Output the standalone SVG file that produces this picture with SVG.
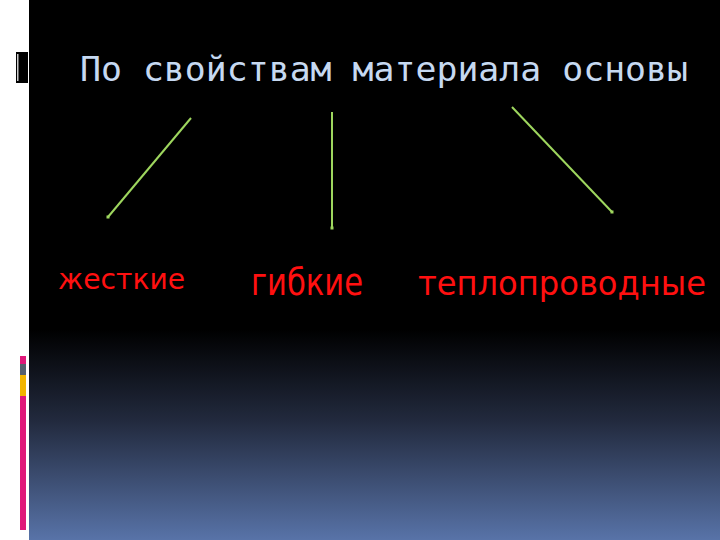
<svg xmlns="http://www.w3.org/2000/svg" width="720" height="540" viewBox="0 0 720 540">
  <style>
    .title { font-family: "DejaVu Sans Mono", "Liberation Mono", monospace; font-size: 34px; fill: #c6d9f1; }
    .lbl { font-family: "DejaVu Sans", "Liberation Sans", sans-serif; fill: #ff1010; }
    .conn { stroke: #9ed65e; stroke-width: 2; fill: none; marker-end: url(#dot); }
  </style>
  <defs>
    <linearGradient id="bg" x1="0" y1="0" x2="0" y2="540" gradientUnits="userSpaceOnUse">
      <stop offset="0" stop-color="#000000"/>
      <stop offset="0.61" stop-color="#000000"/>
      <stop offset="0.78" stop-color="#222a3e"/>
      <stop offset="1" stop-color="#5873a8"/>
    </linearGradient>
    <marker id="dot" markerWidth="4" markerHeight="4" refX="2" refY="2" markerUnits="userSpaceOnUse">
      <rect x="0.5" y="0.5" width="3" height="3" fill="#9ed65e"/>
    </marker>
  </defs>
  <rect x="0" y="0" width="720" height="540" fill="#ffffff"/>
  <rect x="29" y="0" width="691" height="540" fill="url(#bg)"/>
  <g id="decor">
    <rect x="16" y="52" width="12" height="31" fill="#000000"/>
    <rect x="17.2" y="54" width="1.2" height="27" fill="#ffffff"/>
    <rect x="20" y="356" width="6" height="8" fill="#e0187a"/>
    <rect x="20" y="364" width="6" height="11" fill="#55606e"/>
    <rect x="20" y="375" width="6" height="21" fill="#f2b500"/>
    <rect x="20" y="396" width="6" height="134" fill="#e0187a"/>
  </g>
  <g id="title">
    <text class="title" x="80" y="81" textLength="608" lengthAdjust="spacingAndGlyphs">По свойствам материала основы</text>
  </g>
  <g id="connectors">
    <line class="conn" x1="191" y1="118" x2="108" y2="217"/>
    <line class="conn" x1="332" y1="112" x2="332" y2="228"/>
    <line class="conn" x1="512" y1="107" x2="612" y2="212"/>
  </g>
  <g id="node-zhestkie">
    <text class="lbl" x="58" y="289" font-size="29" textLength="127" lengthAdjust="spacingAndGlyphs">жесткие</text>
  </g>
  <g id="node-gibkie">
    <text class="lbl" x="251" y="295" font-size="37" textLength="112" lengthAdjust="spacingAndGlyphs">гибкие</text>
  </g>
  <g id="node-teplo">
    <text class="lbl" x="418" y="295" font-size="34" textLength="288" lengthAdjust="spacingAndGlyphs">теплопроводные</text>
  </g>
</svg>
